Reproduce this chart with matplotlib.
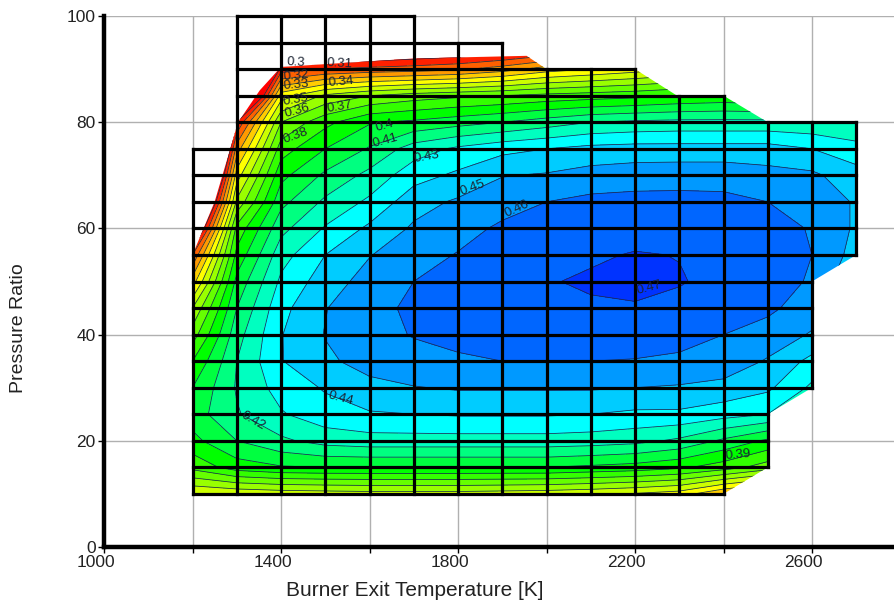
import numpy as np
import matplotlib
matplotlib.use("Agg")
import matplotlib.pyplot as plt
from matplotlib.patches import Polygon
from matplotlib.transforms import ScaledTranslation

plt.rcParams['font.family'] = ['Liberation Sans', 'DejaVu Sans']

temps = [1200, 1300, 1400, 1500, 1600, 1700, 1800, 1900, 2000, 2100, 2200, 2300, 2400, 2500, 2600, 2700]
pressures = [10, 15, 20, 25, 30, 35, 40, 45, 50, 55, 60, 65, 70, 75, 80, 85, 90, 95]

# efficiency, one row per pressure ratio
eff_p10 = [.350, .352, .354, .355, .356, .356, .356, .355, .354, .352, .349, .345, .330, .320, .320, .320]
eff_p15 = [.383, .395, .399, .400, .400, .400, .400, .400, .400, .398, .396, .392, .385, .375, .370, .370]
eff_p20 = [.397, .410, .418, .424, .426, .426, .426, .426, .426, .425, .423, .418, .408, .398, .390, .390]
eff_p25 = [.405, .419, .429, .436, .439, .440, .441, .441, .441, .440, .438, .438, .434, .430, .410, .400]
eff_p30 = [.400, .421, .434, .441, .447, .4495, .451, .451, .451, .451, .450, .449, .447, .442, .428, .420]
eff_p35 = [.390, .420, .4395, .448, .454, .457, .459, .460, .460, .460, .4595, .458, .456, .449, .437, .430]
eff_p40 = [.375, .416, .4395, .4505, .457, .4605, .462, .464, .465, .466, .465, .464, .460, .456, .449, .440]
eff_p45 = [.360, .410, .437, .4495, .4575, .4615, .4645, .4665, .468, .469, .469, .468, .465, .462, .455, .445]
eff_p50 = [.335, .403, .432, .445, .454, .460, .4625, .466, .4695, .471, .473, .4705, .468, .466, .4585, .440]
eff_p55 = [.310, .393, .426, .440, .4495, .4565, .4605, .464, .467, .469, .4705, .4698, .469, .467, .460, .446]
eff_p60 = [.270, .383, .417, .431, .442, .4515, .4568, .4615, .4645, .466, .467, .467, .467, .465, .459, .4485]
eff_p65 = [.230, .362, .407, .422, .432, .446, .4515, .4565, .460, .4625, .463, .463, .4625, .460, .456, .449]
eff_p70 = [.190, .345, .397, .412, .423, .436, .442, .4495, .451, .454, .4555, .456, .456, .4535, .452, .444]
eff_p75 = [.150, .325, .385, .400, .411, .425, .432, .437, .440, .443, .444, .444, .444, .444, .440, .434]
eff_p80 = [.100, .300, .370, .387, .399, .402, .406, .410, .415, .420, .422, .423, .423, .423, .422, .420]
eff_p85 = [.100, .230, .345, .362, .370, .375, .378, .380, .383, .385, .387, .390, .392, .390, .390, .390]
eff_p90 = [.100, .150, .305, .310, .313, .315, .318, .325, .335, .340, .345, .350, .350, .350, .350, .350]
eff_p95 = [.100, .100, .260, .265, .270, .275, .278, .280, .285, .290, .300, .300, .300, .300, .300, .300]

eff_rows = [eff_p10, eff_p15, eff_p20, eff_p25, eff_p30, eff_p35, eff_p40, eff_p45, eff_p50,
            eff_p55, eff_p60, eff_p65, eff_p70, eff_p75, eff_p80, eff_p85, eff_p90, eff_p95]

# outline of the coloured area
edge_t = [1200, 1200, 1250, 1303, 1352, 1400, 1700, 1955, 2000, 2200, 2295, 2400, 2500, 2700, 2700, 2600, 2600, 2500, 2500, 2400]
edge_p = [10, 55, 65, 80, 86, 90.4, 92, 92.5, 90, 90, 85, 85, 80, 80, 55, 50, 30, 25, 15, 10]

# black cells: lowest and highest pressure ratio in each temperature column
box_low = [10, 10, 10, 10, 10, 10, 10, 10, 10, 10, 10, 10, 10, 15, 30, 55]
box_high = [75, 100, 100, 100, 100, 100, 95, 95, 90, 90, 90, 85, 85, 80, 80, 80]

levels = [0, .30, .31, .32, .33, .34, .35, .36, .37, .38, .39, .40, .41, .42, .43, .44, .45, .46, .47, .60]
band_colors = ['#ff0000', '#ff2000', '#ff6000', '#ff9900', '#ffcc00', '#ffff00', '#ccff00', '#99ff00',
               '#66ff00', '#33ff00', '#00ff00', '#00ff40', '#00ff80', '#00ffc0', '#00ffff', '#00ccff',
               '#0099ff', '#0066ff', '#0033ff']

label_text = ['0.3', '0.31', '0.32', '0.33', '0.34', '0.35', '0.36', '0.37', '0.38', '0.4', '0.41',
              '0.43', '0.45', '0.46', '0.47', '0.44', '0.42', '0.39']
label_t = [1434, 1533, 1434, 1434, 1535, 1434, 1436, 1533, 1434, 1635, 1635, 1730, 1832, 1933, 2232, 1536, 1337, 2433]
label_p = [91.3, 91.1, 88.7, 87.0, 87.6, 84.2, 82.1, 82.9, 77.4, 79.3, 76.6, 73.4, 67.6, 63.7, 48.8, 27.9, 23.7, 17.3]
label_rot = [-3, -3, 5, 5, 5, 10, 15, 10, 20, 15, 15, 10, 20, 25, 15, -15, -30, 5]

xticks = [1000, 1200, 1400, 1600, 1800, 2000, 2200, 2400, 2600]
xtick_labels = ['1000', '', '1400', '', '1800', '', '2200', '', '2600']
yticks = [0, 20, 40, 60, 80, 100]

fig = plt.figure(figsize=(8.94, 6.05), dpi=100)
ax = fig.add_axes([104/894, 1 - 547/605, 790/894, 531/605])

T, P = np.meshgrid(temps, pressures)
Z = np.array(eff_rows)

outline = Polygon(np.column_stack([edge_t, edge_p]), closed=True, transform=ax.transData,
                  fc='none', ec='none')
ax.add_patch(outline)

filled = ax.contourf(T, P, Z, levels=levels, colors=band_colors, zorder=2)
filled.set_clip_path(outline)
lines = ax.contour(T, P, Z, levels=levels[1:-1], colors='#1c2a4a', linewidths=0.55, zorder=3)
lines.set_clip_path(outline)

for t, lo, hi in zip(temps, box_low, box_high):
    ax.plot([t, t], [lo, hi], color='black', lw=2.3, solid_capstyle='projecting', zorder=4, clip_on=False)
for p in range(10, 105, 5):
    xs = [t for t, lo, hi in zip(temps, box_low, box_high) if lo <= p <= hi]
    ax.plot([min(xs), max(xs)], [p, p], color='black', lw=2.3, solid_capstyle='projecting', zorder=4, clip_on=False)

for s, t, p, r in zip(label_text, label_t, label_p, label_rot):
    ax.text(t, p, s, fontsize=9.5, color='#1c2433', rotation=r, ha='center', va='center',
            rotation_mode='anchor', zorder=5)

ax.set_xlim(1000, 1000 + 790/0.4425)
ax.set_ylim(0, 100)
ax.set_xticks(xticks)
ax.set_xticklabels(xtick_labels)
ax.set_yticks(yticks)
ax.grid(True, color='#b0b0b0', lw=1.0, zorder=0)
ax.set_axisbelow(True)
ax.tick_params(axis='both', length=4, width=1, labelsize=12.5, color='black', labelcolor='#222222', pad=2)

shift = ScaledTranslation(-6/72, 0, fig.dpi_scale_trans)
for lab in ax.get_xticklabels():
    lab.set_transform(lab.get_transform() + shift)

for side in ['top', 'right']:
    ax.spines[side].set_visible(False)
for side in ['left', 'bottom']:
    ax.spines[side].set_linewidth(3.2)

ax.set_xlabel('Burner Exit Temperature [K]', fontsize=15, color='#222222', va='center')
ax.xaxis.set_label_coords((415 - 104)/790, -(591 - 547)/531)
ax.set_ylabel('Pressure Ratio', fontsize=14, color='#222222', va='center')
ax.yaxis.set_label_coords((19 - 104)/790, (547 - 328)/531)

fig.savefig('out.png', dpi=100)
